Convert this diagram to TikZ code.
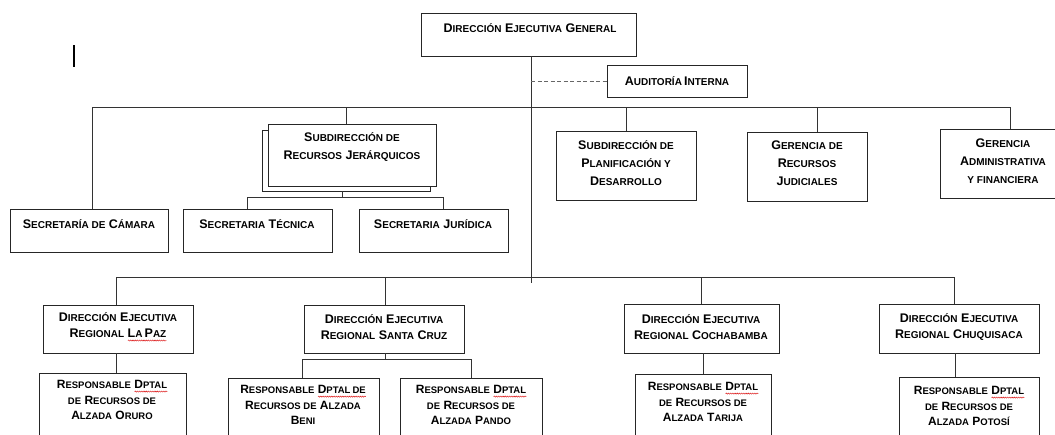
\documentclass[tikz,border=0pt]{standalone}
\usepackage{fontspec}
\setmainfont{Liberation Sans}
\usetikzlibrary{fit,decorations.pathmorphing}
\def\smsz{10}
\newcommand\sm[1]{{\fontsize{\smsz}{\smsz}\selectfont\MakeUppercase{#1}}}
\newsavebox\sqbox
\newcommand\squig[1]{\sbox\sqbox{#1}\leavevmode\rlap{\raisebox{-3pt}{\tikz[x=1pt,y=1pt,baseline=0pt]\draw[red!85!black, line width=0.4pt, decorate, decoration={snake, amplitude=0.6pt, segment length=2.2pt}] (0pt,0pt) -- (\wd\sqbox,0pt);}}\usebox\sqbox}
\tikzset{
  box/.style={draw=black!85, line width=0.9pt, fill=white, inner sep=0pt},
  txt/.style={align=center, inner sep=0pt, font=\bfseries\fontsize{12.5}{18}\selectfont},
  rtxt/.style={align=center, inner sep=0pt, font=\bfseries\fontsize{12.5}{16}\selectfont},
  stxt/.style={align=center, inner sep=0pt, font=\def\smsz{9.5}\bfseries\fontsize{12}{15.5}\selectfont},
  conn/.style={draw=black!80, line width=0.9pt},
  dconn/.style={draw=black!60, line width=0.9pt, dash pattern=on 4pt off 2.5pt},
}
\begin{document}
\begin{tikzpicture}[x=1pt,y=-1pt]
\useasboundingbox (0,0) rectangle (1055,434);
\clip (0,0) rectangle (1055,434);
% stray cursor mark
\coordinate (cur1) at (74,45);
\coordinate (cur2) at (74,67);
\draw[line width=2pt] (cur1) -- (cur2);
% junction coordinates
\coordinate (tk) at (531,283);
\coordinate (ubL) at (92,107);
\coordinate (ubR) at (1010,107);
\coordinate (ub2) at (346,107);
\coordinate (ub3) at (626,107);
\coordinate (ub4) at (817,107);
\coordinate (sbL) at (247,197);
\coordinate (sbR) at (443,197);
\coordinate (sbM) at (342,197);
\coordinate (lbL) at (116,277);
\coordinate (lbR) at (954,277);
\coordinate (lb2) at (385,277);
\coordinate (lb3) at (701,277);
\coordinate (scbL) at (302,359);
\coordinate (scbR) at (471,359);
\coordinate (scbM) at (385,359);
% connectors (drawn under boxes)
\draw[conn] (ubL) -- (ubR);
\draw[conn] (lbL) -- (lbR);
\draw[conn] (sbL) -- (sbR);
\draw[conn] (scbL) -- (scbR);
% boxes
\node[box, fit={(421,13) (636,56)}] (deg) {};
\node[box, fit={(607,65) (747,97)}] (aud) {};
\node[box, fit={(262,130) (430,191)}] (srjb) {};
\node[box, fit={(268,124) (436,186)}] (srj) {};
\node[box, fit={(10,209) (168,252)}] (scam) {};
\node[box, fit={(183,209) (332,252)}] (stec) {};
\node[box, fit={(359,209) (508,252)}] (sjur) {};
\node[box, fit={(556,131) (696,200)}] (spla) {};
\node[box, fit={(747,132) (867,201)}] (grj) {};
\node[box, fit={(940,129) (1068,198)}] (gadm) {};
\node[box, fit={(43,305) (193,353)}] (rlp) {};
\node[box, fit={(304,305) (464,353)}] (rsc) {};
\node[box, fit={(624,304) (779,353)}] (rcb) {};
\node[box, fit={(879,304) (1039,353)}] (rch) {};
\node[box, fit={(39,373) (186,450)}] (oru) {};
\node[box, fit={(228,378) (379,450)}] (ben) {};
\node[box, fit={(400,378) (542,450)}] (pan) {};
\node[box, fit={(635,374) (771,450)}] (tar) {};
\node[box, fit={(899,377) (1039,450)}] (pot) {};
% connectors to boxes
\draw[conn] (tk |- deg.south) -- (tk);
\draw[dconn] (tk |- aud.west) -- (aud.west);
\draw[conn] (ubL) -- (ubL |- scam.north);
\draw[conn] (ub2) -- (ub2 |- srj.north);
\draw[conn] (ub3) -- (ub3 |- spla.north);
\draw[conn] (ub4) -- (ub4 |- grj.north);
\draw[conn] (ubR) -- (ubR |- gadm.north);
\draw[conn] (sbM |- srjb.south) -- (sbM);
\draw[conn] (sbL) -- (sbL |- stec.north);
\draw[conn] (sbR) -- (sbR |- sjur.north);
\draw[conn] (lbL) -- (lbL |- rlp.north);
\draw[conn] (lb2) -- (lb2 |- rsc.north);
\draw[conn] (lb3) -- (lb3 |- rcb.north);
\draw[conn] (lbR) -- (lbR |- rch.north);
\draw[conn] (lbL |- rlp.south) -- (lbL |- oru.north);
\draw[conn] (scbM |- rsc.south) -- (scbM);
\draw[conn] (scbL) -- (scbL |- ben.north);
\draw[conn] (scbR) -- (scbR |- pan.north);
\coordinate (cbs) at (703,353);
\coordinate (chs) at (955,353);
\draw[conn] (cbs) -- (cbs |- tar.north);
\draw[conn] (chs) -- (chs |- pot.north);
% texts
\node[txt] (deg-t) at (530,28) {D\sm{irección} E\sm{jecutiva} G\sm{eneral}};
\node[txt] (aud-t) at (677,81) {A\sm{uditoría}\,I\sm{nterna}};
\node[txt] (srj-t) at (352,147) {S\sm{ubdirección de}\\R\sm{ecursos} J\sm{erárquicos}};
\node[txt] (scam-t) at (89,224) {S\sm{ecretaría de} C\sm{ámara}};
\node[txt] (stec-t) at (257,224) {S\sm{ecretaria} T\sm{écnica}};
\node[txt] (sjur-t) at (433,224) {S\sm{ecretaria} J\sm{urídica}};
\node[txt] (spla-t) at (626,163) {S\sm{ubdirección de}\\P\sm{lanificación y}\\D\sm{esarrollo}};
\node[txt] (grj-t) at (807,163) {G\sm{erencia de}\\R\sm{ecursos}\\J\sm{udiciales}};
\node[txt] (gadm-t) at (1003,161) {G\sm{erencia}\\A\sm{dministrativa}\\\sm{y financiera}};
\node[rtxt] (rlp-t) at (118,327) {D\sm{irección} E\sm{jecutiva}\\R\sm{egional} \squig{L\sm{a}\,P\sm{az}}};
\node[rtxt] (rsc-t) at (384,327) {D\sm{irección} E\sm{jecutiva}\\R\sm{egional} S\sm{anta} C\sm{ruz}};
\node[rtxt] (rcb-t) at (701,327) {D\sm{irección} E\sm{jecutiva}\\R\sm{egional} C\sm{ochabamba}};
\node[rtxt] (rch-t) at (959,327) {D\sm{irección} E\sm{jecutiva}\\R\sm{egional} C\sm{huquisaca}};
\node[stxt] (oru-t) at (112,400) {R\sm{esponsable} \squig{D\sm{ptal}}\\\sm{de} R\sm{ecursos de}\\A\sm{lzada} O\sm{ruro}};
\node[stxt] (ben-t) at (303,405) {R\sm{esponsable} \squig{D\sm{ptal}\,\sm{de}}\\R\sm{ecursos de} A\sm{lzada}\\B\sm{eni}};
\node[stxt] (pan-t) at (471,405) {R\sm{esponsable} \squig{D\sm{ptal}}\\\sm{de} R\sm{ecursos de}\\A\sm{lzada} P\sm{ando}};
\node[stxt] (tar-t) at (703,402) {R\sm{esponsable} \squig{D\sm{ptal}}\\\sm{de} R\sm{ecursos de}\\A\sm{lzada} T\sm{arija}};
\node[stxt] (pot-t) at (969,406) {R\sm{esponsable} \squig{D\sm{ptal}}\\\sm{de} R\sm{ecursos de}\\A\sm{lzada} P\sm{otosí}};
\end{tikzpicture}
\end{document}
